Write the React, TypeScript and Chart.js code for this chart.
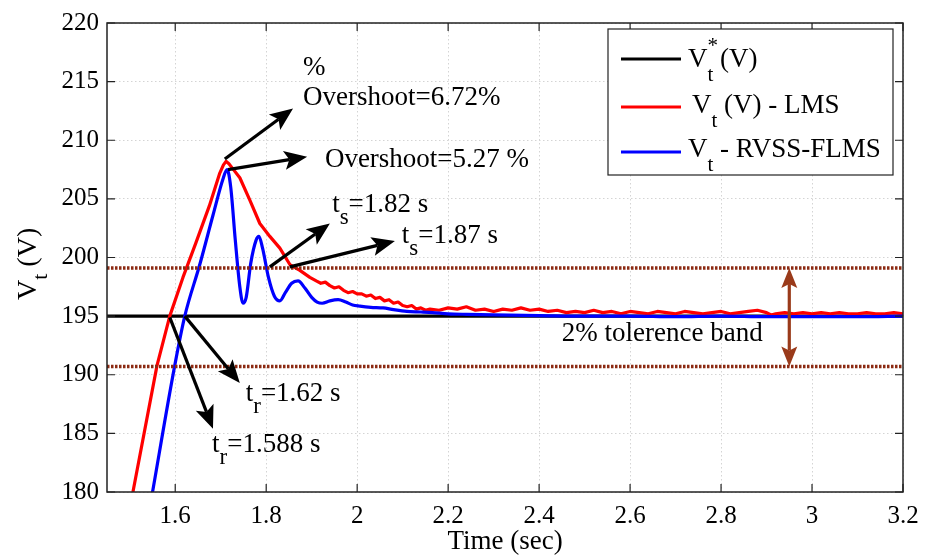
import React, { useEffect, useRef } from "react";
import { Chart, registerables } from "chart.js";

Chart.register(...registerables);

const FONT = "'Liberation Serif', 'DejaVu Serif', serif";

// ---- Data ----
const refTime = [1.45, 3.2];
const refVolt = [195, 195];

const bandTime = [1.45, 3.2];
const bandUpper = [199.1, 199.1];
const bandLower = [190.7, 190.7];

const lmsTime = [
  1.48, 1.507, 1.56, 1.588, 1.617, 1.645, 1.675, 1.698, 1.706, 1.712, 1.718, 1.726, 1.742, 1.764, 1.786, 1.808,
  1.83, 1.852, 1.874, 1.896, 1.91, 1.92, 1.93, 1.94, 1.95, 1.96, 1.97, 1.98, 1.99, 2.0, 2.01, 2.02, 2.03, 2.04,
  2.05, 2.06, 2.07, 2.08, 2.09, 2.1, 2.11, 2.12, 2.13, 2.14, 2.15, 2.16, 2.18, 2.2, 2.22, 2.24, 2.26, 2.28, 2.3,
  2.32, 2.34, 2.36, 2.38, 2.4, 2.42, 2.44, 2.46, 2.48, 2.5, 2.52, 2.54, 2.56, 2.58, 2.6, 2.62, 2.64, 2.66, 2.68,
  2.7, 2.72, 2.74, 2.76, 2.78, 2.8, 2.82, 2.84, 2.86, 2.88, 2.9, 2.91, 2.92, 2.94, 2.96, 2.98, 3.0, 3.02, 3.04,
  3.06, 3.08, 3.1, 3.12, 3.14, 3.16, 3.18, 3.2,
];
const lmsVolt = [
  175.3, 180.0, 190.8, 195.0, 198.3, 201.2, 204.4, 207.2, 207.9, 208.2, 208.0, 207.6, 206.8, 204.9, 202.9, 201.8,
  200.8, 199.4, 198.9, 198.3, 198.0, 197.8, 197.9, 197.6, 197.4, 197.5, 197.2, 197.0, 197.1, 196.9, 196.9, 196.7,
  196.8, 196.5, 196.6, 196.3, 196.4, 196.1, 196.2, 195.9, 195.8, 195.9, 195.6, 195.7, 195.5, 195.6, 195.5, 195.7,
  195.6, 195.8, 195.5, 195.6, 195.4, 195.6, 195.5, 195.7, 195.5, 195.6, 195.4, 195.5, 195.3, 195.4, 195.3, 195.5,
  195.3, 195.4, 195.2, 195.4, 195.3, 195.2, 195.4, 195.3, 195.2, 195.4, 195.3, 195.2, 195.3, 195.4, 195.2, 195.3,
  195.4, 195.5, 195.3, 195.1, 195.2, 195.3, 195.2, 195.3, 195.2, 195.3, 195.2, 195.3, 195.2, 195.2, 195.3, 195.2,
  195.2, 195.3, 195.2,
];

const rvssTime = [
  1.53, 1.551, 1.599, 1.621, 1.654, 1.683, 1.705, 1.714, 1.722, 1.732, 1.742, 1.749, 1.756, 1.766, 1.778, 1.784,
  1.792, 1.805, 1.818, 1.83, 1.842, 1.856, 1.87, 1.885, 1.9, 1.912, 1.923, 1.94, 1.958, 1.975, 1.99, 2.006, 2.03,
  2.057, 2.08, 2.109, 2.14, 2.166, 2.2, 2.241, 2.3, 2.4, 2.5, 2.6, 2.7, 2.8, 2.9, 3.0, 3.1, 3.2,
];
const rvssVolt = [
  175.5, 180.2, 190.8, 195.0, 199.4, 203.6, 206.7, 207.5, 206.0, 201.5, 197.5, 196.1, 196.6, 199.5, 201.5, 201.8,
  200.8, 198.3, 196.7, 196.3, 197.0, 197.8, 198.0, 197.4, 196.6, 196.2, 196.1, 196.3, 196.4, 196.2, 195.95, 195.85,
  195.75, 195.7, 195.55, 195.4, 195.35, 195.3, 195.2, 195.15, 195.1, 195.05, 195.0, 195.0, 194.95, 195.0, 194.95,
  194.95, 194.95, 195.0,
];

const xTickValues = [1.6, 1.8, 2, 2.2, 2.4, 2.6, 2.8, 3, 3.2];
const yTickValues = [180, 185, 190, 195, 200, 205, 210, 215, 220];

const legendLabels = ["V*t (V)", "Vt (V) - LMS", "Vt - RVSS-FLMS"];

// annotation arrows (data coordinates: time, volt)
const arrowFromT = [1.709, 1.716, 1.808, 1.852, 1.588, 1.621];
const arrowFromV = [208.4, 207.5, 199.2, 199.2, 194.9, 195.0];
const arrowToT = [1.859, 1.89, 1.94, 2.083, 1.683, 1.742];
const arrowToV = [212.7, 208.6, 202.9, 201.4, 185.4, 189.3];

// annotation texts
const annoMain = ["%", "Overshoot=6.72%", "Overshoot=5.27 %", "t", "t", "t", "t", "2% tolerence band"];
const annoSub = ["", "", "", "s", "s", "r", "r", ""];
const annoRest = ["", "", "", "=1.82 s", "=1.87 s", "=1.588 s", "=1.62 s", ""];
const annoT = [1.881, 1.881, 1.929, 1.945, 2.098, 1.681, 1.755, 2.45];
const annoV = [215.6, 213.0, 207.7, 203.9, 201.2, 183.4, 187.8, 192.9];

// tolerance band double arrow
const bandArrowT = 2.95;

const BAND_COLOR = "#8c2a12";
const BAND_ARROW = "#9a3a1a";

type Seg = { s: string; size: number; dy?: number; adv?: boolean };

function drawRich(ctx: CanvasRenderingContext2D, x: number, y: number, segs: Seg[]) {
  let cx = x;
  for (const g of segs) {
    ctx.font = `${g.size}px ${FONT}`;
    ctx.fillText(g.s, cx, y + (g.dy || 0));
    if (g.adv !== false) cx += ctx.measureText(g.s).width;
  }
}

function arrowHead(ctx: CanvasRenderingContext2D, x: number, y: number, ang: number, len: number, hw: number, notch: number) {
  ctx.save();
  ctx.translate(x, y);
  ctx.rotate(ang);
  ctx.beginPath();
  ctx.moveTo(0, 0);
  ctx.lineTo(-len, -hw);
  ctx.lineTo(-len + notch, 0);
  ctx.lineTo(-len, hw);
  ctx.closePath();
  ctx.fill();
  ctx.restore();
}

function arrow(ctx: CanvasRenderingContext2D, x1: number, y1: number, x2: number, y2: number, lw: number, len: number, hw: number, notch: number) {
  const a = Math.atan2(y2 - y1, x2 - x1);
  const bx = x2 - Math.cos(a) * (len - notch);
  const by = y2 - Math.sin(a) * (len - notch);
  ctx.lineWidth = lw;
  ctx.beginPath();
  ctx.moveTo(x1, y1);
  ctx.lineTo(bx, by);
  ctx.stroke();
  arrowHead(ctx, x2, y2, a, len, hw, notch);
}

const annotationPlugin = {
  id: "annotationsCustom",
  afterDatasetsDraw(chart: any) {
    const ctx: CanvasRenderingContext2D = chart.ctx;
    const xs = chart.scales.x;
    const ys = chart.scales.y;
    ctx.save();
    ctx.fillStyle = "#000";
    ctx.strokeStyle = "#000";
    ctx.lineCap = "butt";
    for (let i = 0; i < arrowFromT.length; i++) {
      arrow(
        ctx,
        xs.getPixelForValue(arrowFromT[i]),
        ys.getPixelForValue(arrowFromV[i]),
        xs.getPixelForValue(arrowToT[i]),
        ys.getPixelForValue(arrowToV[i]),
        3.2,
        23,
        9.5,
        5
      );
    }
    ctx.fillStyle = BAND_ARROW;
    ctx.strokeStyle = BAND_ARROW;
    const bx = xs.getPixelForValue(bandArrowT);
    const by1 = ys.getPixelForValue(bandUpper[0]);
    const by2 = ys.getPixelForValue(bandLower[0]);
    const len = 20;
    ctx.lineWidth = 3.2;
    ctx.beginPath();
    ctx.moveTo(bx, by1 + len - 4);
    ctx.lineTo(bx, by2 - len + 4);
    ctx.stroke();
    arrowHead(ctx, bx, by1, -Math.PI / 2, len, 8, 4);
    arrowHead(ctx, bx, by2, Math.PI / 2, len, 8, 4);

    ctx.fillStyle = "#000";
    ctx.textBaseline = "alphabetic";
    ctx.textAlign = "left";
    for (let i = 0; i < annoMain.length; i++) {
      const px = xs.getPixelForValue(annoT[i]);
      const py = ys.getPixelForValue(annoV[i]);
      const segs: Seg[] = [{ s: annoMain[i], size: 27 }];
      if (annoSub[i]) segs.push({ s: annoSub[i], size: 23, dy: 12 });
      if (annoRest[i]) segs.push({ s: annoRest[i], size: 27 });
      drawRich(ctx, px, py, segs);
    }
    ctx.restore();
  },
};

const framePlugin = {
  id: "frameCustom",
  afterDraw(chart: any) {
    const ctx: CanvasRenderingContext2D = chart.ctx;
    const a = chart.chartArea;
    const xs = chart.scales.x;
    const ys = chart.scales.y;
    ctx.save();
    ctx.strokeStyle = "#222";
    ctx.lineWidth = 1.5;
    ctx.setLineDash([]);
    ctx.strokeRect(a.left, a.top, a.right - a.left, a.bottom - a.top);
    ctx.lineWidth = 1.2;
    const tl = 8;
    ctx.beginPath();
    for (const v of xTickValues) {
      const p = xs.getPixelForValue(v);
      ctx.moveTo(p, a.bottom);
      ctx.lineTo(p, a.bottom - tl);
      ctx.moveTo(p, a.top);
      ctx.lineTo(p, a.top + tl);
    }
    for (const v of yTickValues) {
      const p = ys.getPixelForValue(v);
      ctx.moveTo(a.left, p);
      ctx.lineTo(a.left + tl, p);
      ctx.moveTo(a.right, p);
      ctx.lineTo(a.right - tl, p);
    }
    ctx.stroke();

    ctx.fillStyle = "#000";
    ctx.textBaseline = "alphabetic";
    ctx.textAlign = "left";
    ctx.font = `27px ${FONT}`;
    const title = "Time (sec)";
    const w = ctx.measureText(title).width;
    const cx = (a.left + a.right) / 2;
    ctx.fillText(title, cx - w / 2, 549);

    ctx.save();
    ctx.translate(36, 300);
    ctx.rotate(-Math.PI / 2);
    drawRich(ctx, 0, 0, [
      { s: "V", size: 28 },
      { s: "t", size: 22, dy: 11 },
      { s: " (V)", size: 28 },
    ]);
    ctx.restore();

    const lx1 = 608, ly1 = 29, lx2 = 893, ly2 = 175;
    ctx.fillStyle = "#fff";
    ctx.fillRect(lx1, ly1, lx2 - lx1, ly2 - ly1);
    ctx.strokeStyle = "#222";
    ctx.lineWidth = 1.2;
    ctx.strokeRect(lx1, ly1, lx2 - lx1, ly2 - ly1);
    const colors = ["#000000", "#ff0000", "#0000ff"];
    const lineY = [59, 107, 152];
    const baseY = [67, 113, 157];
    for (let i = 0; i < 3; i++) {
      ctx.strokeStyle = colors[i];
      ctx.lineWidth = 3.2;
      ctx.beginPath();
      ctx.moveTo(621, lineY[i]);
      ctx.lineTo(681, lineY[i]);
      ctx.stroke();
    }
    ctx.fillStyle = "#000";
    drawRich(ctx, 688, baseY[0], [
      { s: "V", size: 27 },
      { s: "*", size: 21, dy: -15, adv: false },
      { s: "t", size: 21, dy: 14 },
      { s: " (V)", size: 27 },
    ]);
    drawRich(ctx, 692, baseY[1], [
      { s: "V", size: 27 },
      { s: "t", size: 21, dy: 14 },
      { s: " (V) - LMS", size: 27 },
    ]);
    drawRich(ctx, 688, baseY[2], [
      { s: "V", size: 27 },
      { s: "t", size: 21, dy: 14 },
      { s: " - RVSS-FLMS", size: 27 },
    ]);
    ctx.restore();
  },
};

function pts(t: number[], v: number[]) {
  return t.map((x, i) => ({ x, y: v[i] }));
}

export default function App() {
  const ref = useRef<HTMLCanvasElement | null>(null);
  useEffect(() => {
    document.body.style.margin = "0";
    let chart: any = null;
    let cancelled = false;
    const build = () => {
      if (cancelled || !ref.current) return;
      const fmt = (v: number) => String(Math.round(v * 10) / 10);
      chart = new Chart(ref.current, {
        type: "line",
        data: {
          datasets: [
            {
              label: "band upper",
              data: pts(bandTime, bandUpper),
              borderColor: BAND_COLOR,
              borderWidth: 3.5,
              borderDash: [2.5, 1.5],
              pointRadius: 0,
              order: 0,
              clip: 0,
            },
            {
              label: "band lower",
              data: pts(bandTime, bandLower),
              borderColor: BAND_COLOR,
              borderWidth: 3.5,
              borderDash: [2.5, 1.5],
              pointRadius: 0,
              order: 0,
              clip: 0,
            },
            {
              label: legendLabels[2],
              data: pts(rvssTime, rvssVolt),
              borderColor: "#0000ff",
              borderWidth: 3.2,
              pointRadius: 0,
              cubicInterpolationMode: "monotone",
              order: 1,
              clip: 0,
            },
            {
              label: legendLabels[1],
              data: pts(lmsTime, lmsVolt),
              borderColor: "#ff0000",
              borderWidth: 3.2,
              pointRadius: 0,
              tension: 0,
              borderJoinStyle: "round",
              order: 2,
              clip: 0,
            },
            {
              label: legendLabels[0],
              data: pts(refTime, refVolt),
              borderColor: "#000000",
              borderWidth: 3.2,
              pointRadius: 0,
              order: 3,
              clip: 0,
            },
          ],
        },
        options: {
          animation: false,
          responsive: false,
          devicePixelRatio: 1,
          layout: { padding: { left: 0, right: 28, top: 20, bottom: 0 } },
          plugins: { legend: { display: false }, tooltip: { enabled: false } },
          scales: {
            x: {
              type: "linear",
              min: 1.45,
              max: 3.2,
              afterBuildTicks: (s: any) => {
                s.ticks = xTickValues.map((v) => ({ value: v }));
              },
              afterFit: (s: any) => {
                s.height = 68;
              },
              grid: { color: "#d4d4d4", lineWidth: 1, drawTicks: false },
              border: { display: false, dash: [1.5, 2.5] },
              ticks: {
                padding: 9,
                color: "#000",
                font: { family: FONT, size: 25 },
                maxRotation: 0,
                autoSkip: false,
                callback: (v: any) => fmt(Number(v)),
              },
            },
            y: {
              type: "linear",
              min: 180,
              max: 220,
              afterBuildTicks: (s: any) => {
                s.ticks = yTickValues.map((v) => ({ value: v }));
              },
              afterFit: (s: any) => {
                s.width = 107;
              },
              grid: { color: "#d4d4d4", lineWidth: 1, drawTicks: false },
              border: { display: false, dash: [1.5, 2.5] },
              ticks: {
                padding: 8,
                color: "#000",
                font: { family: FONT, size: 25 },
                autoSkip: false,
                callback: (v: any) => fmt(Number(v)),
              },
            },
          },
        },
        plugins: [annotationPlugin, framePlugin],
      } as any);
    };
    const fonts: any = (document as any).fonts;
    if (fonts && fonts.load) {
      Promise.all([
        fonts.load("25px 'Liberation Serif'"),
        fonts.load("20px 'Liberation Serif'"),
      ])
        .catch(() => null)
        .then(() => build());
    } else {
      build();
    }
    return () => {
      cancelled = true;
      if (chart) chart.destroy();
    };
  }, []);
  return (
    <div style={{ position: "absolute", left: 0, top: 0, width: 931, height: 560, background: "#fff" }}>
      <span style={{ fontFamily: "'Liberation Serif'", position: "absolute", left: -1000, top: 0 }}>x</span>
      <canvas ref={ref} width={931} height={560} style={{ display: "block" }} />
    </div>
  );
}
